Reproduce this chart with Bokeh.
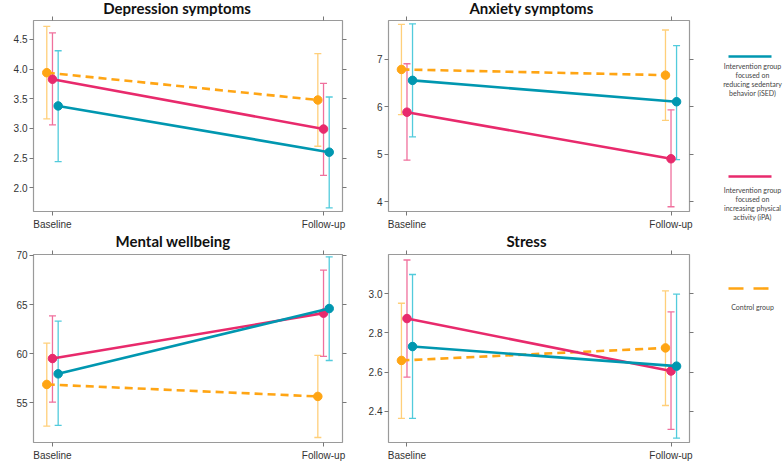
from bokeh.plotting import figure
from bokeh.models import (ColumnDataSource, Range1d, FixedTicker, LinearAxis, Whisker,
                          TeeHead)
from bokeh.layouts import row, column
from bokeh.transform import dodge
from bokeh.core.properties import value
from bokeh.embed import file_html
from bokeh.resources import INLINE

# ---------------- data ----------------
timepoints = ["Baseline", "Follow-up"]
groups = ["iSED", "iPA", "Control"]
panel_titles = ["Depression symptoms", "Anxiety symptoms", "Mental wellbeing", "Stress"]

legend_labels = [
    "Intervention group\nfocused on\nreducing sedentary\nbehavior (iSED)",
    "Intervention group\nfocused on\nincreasing physical\nactivity (iPA)",
    "Control group",
]

# Depression symptoms
dep_ised = [3.38, 2.60]; dep_ised_lo = [2.44, 1.66]; dep_ised_hi = [4.31, 3.53]
dep_ipa = [3.83, 2.99];  dep_ipa_lo = [3.06, 2.21];  dep_ipa_hi = [4.61, 3.76]
dep_ctl = [3.94, 3.48];  dep_ctl_lo = [3.16, 2.70];  dep_ctl_hi = [4.72, 4.26]
dep_ticks = [2.0, 2.5, 3.0, 3.5, 4.0, 4.5]
dep_tick_labels = ["2.0", "2.5", "3.0", "3.5", "4.0", "4.5"]

# Anxiety symptoms
anx_ised = [6.56, 6.11]; anx_ised_lo = [5.37, 4.89]; anx_ised_hi = [7.75, 7.29]
anx_ipa = [5.89, 4.91];  anx_ipa_lo = [4.88, 3.90];  anx_ipa_hi = [6.91, 5.94]
anx_ctl = [6.79, 6.67];  anx_ctl_lo = [5.84, 5.72];  anx_ctl_hi = [7.74, 7.62]
anx_ticks = [4, 5, 6, 7]
anx_tick_labels = ["4", "5", "6", "7"]

# Mental wellbeing
mw_ised = [57.95, 64.60]; mw_ised_lo = [52.70, 59.31]; mw_ised_hi = [63.32, 69.86]
mw_ipa = [59.51, 64.13];  mw_ipa_lo = [55.07, 59.72];  mw_ipa_hi = [63.86, 68.51]
mw_ctl = [56.87, 55.65];  mw_ctl_lo = [52.63, 51.47];  mw_ctl_hi = [61.08, 59.82]
mw_ticks = [55, 60, 65, 70]
mw_tick_labels = ["55", "60", "65", "70"]

# Stress
st_ised = [2.730, 2.630]; st_ised_lo = [2.363, 2.262]; st_ised_hi = [3.098, 2.998]
st_ipa = [2.873, 2.605];  st_ipa_lo = [2.574, 2.307];  st_ipa_hi = [3.172, 2.907]
st_ctl = [2.659, 2.723];  st_ctl_lo = [2.363, 2.429];  st_ctl_hi = [2.951, 3.014]
st_ticks = [2.4, 2.6, 2.8, 3.0]
st_tick_labels = ["2.4", "2.6", "2.8", "3.0"]

# ---------------- style ----------------
LINE_COL = {"iSED": "#0097b0", "iPA": "#e82a6c", "Control": "#ffa514"}
BAR_COL = {"iSED": "#52cbdc", "iPA": "#f0709d", "Control": "#ffcf7a"}
DODGE = {"iSED": 0.021, "iPA": 0.0, "Control": -0.021}
DASH = {"iSED": "solid", "iPA": "solid", "Control": "8 5"}
FRAME_COL = "#9a9a9a"
TICK_COL = "#777777"
LABEL_COL = "#333333"
TITLE_FONT = "Lato"
LABEL_FONT = "Liberation Sans"


def title_fig(text, width, height, cx, ypos):
    t = figure(width=width, height=height, output_backend="svg", toolbar_location=None,
               x_range=Range1d(0, width), y_range=Range1d(height, 0), min_border=0,
               x_axis_location=None, y_axis_location=None)
    t.grid.visible = False
    t.outline_line_color = None
    t.text(x=[cx], y=[ypos], text=[text], text_font=value(TITLE_FONT),
           text_font_size="15px", text_font_style="bold", text_color="#111111",
           text_align="center", text_baseline="middle")
    return t


def panel(yrange, yticks, ylabels, series, width, height, left, right, top, bottom):
    p = figure(width=width, height=height, output_backend="svg", toolbar_location=None,
               x_range=Range1d(-0.07, 1.07), y_range=Range1d(*yrange),
               min_border_left=left, min_border_right=right,
               min_border_top=top, min_border_bottom=bottom,
               x_axis_location=None, y_axis_location=None)
    p.grid.visible = False
    p.outline_line_color = FRAME_COL
    p.outline_line_width = 1.2

    xidx = list(range(len(timepoints)))
    xt = FixedTicker(ticks=xidx)

    def style_axis(ax, labels, standoff):
        ax.axis_line_color = None
        ax.major_tick_line_color = TICK_COL
        ax.major_tick_in = 0
        ax.major_tick_out = 4
        ax.minor_tick_line_color = None
        ax.major_label_overrides = labels
        ax.major_label_text_font = LABEL_FONT
        ax.major_label_text_font_size = "10px"
        ax.major_label_text_color = LABEL_COL
        ax.major_label_standoff = standoff

    xb = LinearAxis(ticker=xt)
    style_axis(xb, {i: t for i, t in zip(xidx, timepoints)}, 3)
    p.add_layout(xb, "below")
    xa = LinearAxis(ticker=xt)
    style_axis(xa, {i: "" for i in xidx}, 0)
    p.add_layout(xa, "above")
    yl = LinearAxis(ticker=FixedTicker(ticks=yticks))
    style_axis(yl, {t: l for t, l in zip(yticks, ylabels)}, 2)
    p.add_layout(yl, "left")
    yr = LinearAxis(ticker=FixedTicker(ticks=yticks))
    style_axis(yr, {t: "" for t in yticks}, 0)
    p.add_layout(yr, "right")

    # error bars first
    for g in ["Control", "iPA", "iSED"]:
        mean, lo, hi = series[g]
        src = ColumnDataSource(dict(x=xidx, y=mean, lo=lo, hi=hi))
        xd = dodge("x", DODGE[g], range=p.x_range)
        w = Whisker(source=src, base=xd, upper="hi", lower="lo", dimension="height",
                    line_color=BAR_COL[g], line_width=1.3,
                    upper_head=TeeHead(size=7, line_color=BAR_COL[g], line_width=1.3),
                    lower_head=TeeHead(size=7, line_color=BAR_COL[g], line_width=1.3))
        p.add_layout(w)
    for g in ["Control", "iPA", "iSED"]:
        mean, lo, hi = series[g]
        src = ColumnDataSource(dict(x=xidx, y=mean))
        xd = dodge("x", DODGE[g], range=p.x_range)
        p.line(x=xd, y="y", source=src, line_color=LINE_COL[g], line_width=2.6,
               line_dash=DASH[g])
        p.scatter(x=xd, y="y", source=src, size=8.5, fill_color=LINE_COL[g],
                  line_color=LINE_COL[g])
    return p


p1 = panel((1.60, 4.82), dep_ticks, dep_tick_labels,
           {"iSED": (dep_ised, dep_ised_lo, dep_ised_hi),
            "iPA": (dep_ipa, dep_ipa_lo, dep_ipa_hi),
            "Control": (dep_ctl, dep_ctl_lo, dep_ctl_hi)},
           width=350, height=216, left=33, right=8, top=4, bottom=20)
p2 = panel((3.80, 7.82), anx_ticks, anx_tick_labels,
           {"iSED": (anx_ised, anx_ised_lo, anx_ised_hi),
            "iPA": (anx_ipa, anx_ipa_lo, anx_ipa_hi),
            "Control": (anx_ctl, anx_ctl_lo, anx_ctl_hi)},
           width=344, height=216, left=38, right=5, top=4, bottom=20)
p3 = panel((50.96, 70.10), mw_ticks, mw_tick_labels,
           {"iSED": (mw_ised, mw_ised_lo, mw_ised_hi),
            "iPA": (mw_ipa, mw_ipa_lo, mw_ipa_hi),
            "Control": (mw_ctl, mw_ctl_lo, mw_ctl_hi)},
           width=350, height=213, left=33, right=8, top=4, bottom=21)
p4 = panel((2.24, 3.20), st_ticks, st_tick_labels,
           {"iSED": (st_ised, st_ised_lo, st_ised_hi),
            "iPA": (st_ipa, st_ipa_lo, st_ipa_hi),
            "Control": (st_ctl, st_ctl_lo, st_ctl_hi)},
           width=344, height=213, left=38, right=5, top=4, bottom=21)

t1 = title_fig(panel_titles[0], 350, 16, 176.5, 7.0)
t2 = title_fig(panel_titles[1], 344, 16, 181, 7.0)
t3 = title_fig(panel_titles[2], 350, 18, 172.5, 8.5)
t4 = title_fig(panel_titles[3], 344, 18, 176, 8.5)

# ---------------- legend panel ----------------
LW, LH = 90, 463
lg = figure(width=LW, height=LH, output_backend="svg", toolbar_location=None,
            x_range=Range1d(0, LW), y_range=Range1d(LH, 0),
            min_border=0, x_axis_location=None, y_axis_location=None)
lg.grid.visible = False
lg.outline_line_color = None
key_y = [56, 176, 288]
text_y = [61, 185, 302]
for i, g in enumerate(groups):
    lg.line(x=[34, 77], y=[key_y[i], key_y[i]], line_color=LINE_COL[g], line_width=2.6,
            line_dash="15 10" if g == "Control" else "solid")
    lg.text(x=[58], y=[text_y[i]], text=[legend_labels[i]], text_font=value(TITLE_FONT),
            text_font_size="7px", text_color="#444444", text_align="center",
            text_baseline="top", text_line_height=1.15)

layout = row(column(row(t1, t2), row(p1, p2), row(t3, t4), row(p3, p4)), lg)

open("out.html", "w").write(file_html(layout, INLINE))
